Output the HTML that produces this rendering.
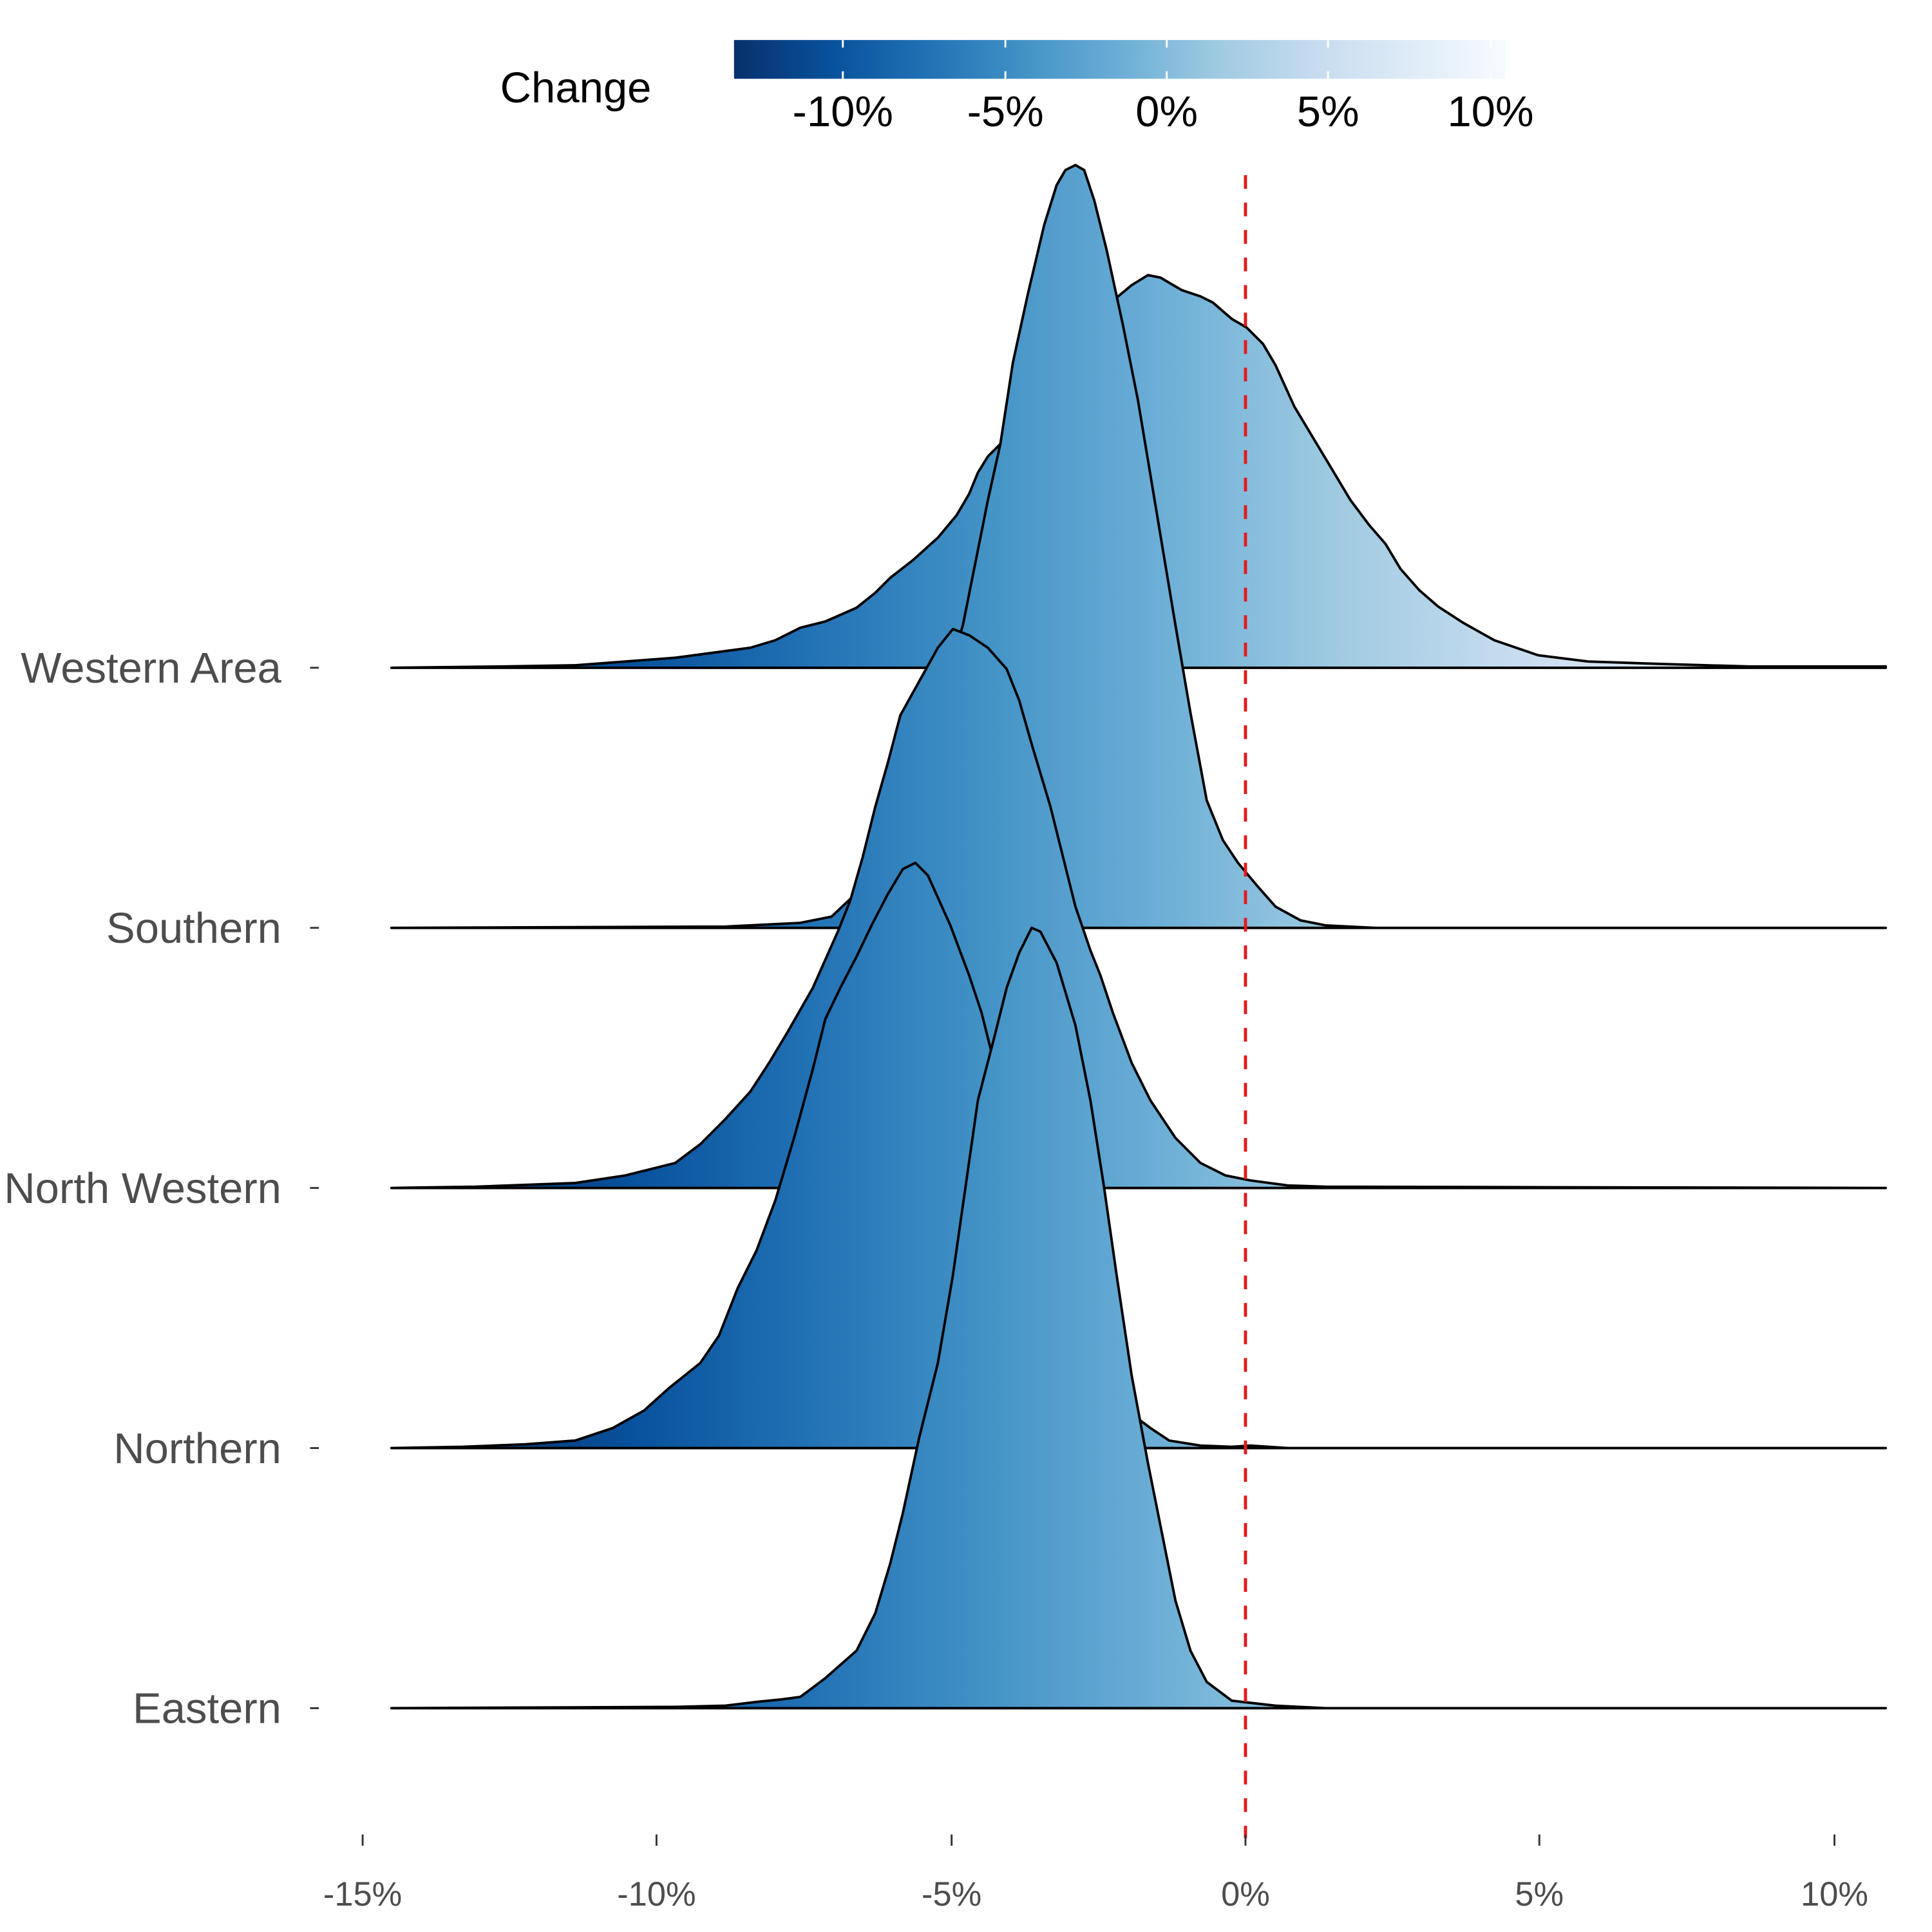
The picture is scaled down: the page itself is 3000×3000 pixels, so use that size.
<!DOCTYPE html>
<html><head><style>html,body{margin:0;padding:0;background:#fff}svg{display:block}</style></head>
<body>
<svg width="3000" height="3000" viewBox="0 0 1545 1545" xmlns="http://www.w3.org/2000/svg" font-family="Liberation Sans, Arial, sans-serif">
<defs>
<linearGradient id="g" gradientUnits="userSpaceOnUse" x1="365" y1="0" x2="1486" y2="0">
<stop offset="0" stop-color="#08306b"/><stop offset="0.125" stop-color="#08519c"/><stop offset="0.25" stop-color="#2171b5"/><stop offset="0.375" stop-color="#4292c6"/><stop offset="0.5" stop-color="#6baed6"/><stop offset="0.625" stop-color="#9ecae1"/><stop offset="0.75" stop-color="#c6dbef"/><stop offset="0.875" stop-color="#deebf7"/><stop offset="1" stop-color="#f7fbff"/>
</linearGradient>
<linearGradient id="cb" x1="0" y1="0" x2="1" y2="0">
<stop offset="0" stop-color="#08306b"/><stop offset="0.125" stop-color="#08519c"/><stop offset="0.25" stop-color="#2171b5"/><stop offset="0.375" stop-color="#4292c6"/><stop offset="0.5" stop-color="#6baed6"/><stop offset="0.625" stop-color="#9ecae1"/><stop offset="0.75" stop-color="#c6dbef"/><stop offset="0.875" stop-color="#deebf7"/><stop offset="1" stop-color="#f7fbff"/>
</linearGradient>
</defs>
<g fill="url(#g)" stroke="#000" stroke-width="2" stroke-linejoin="round">
<path d="M313,534 L400,533 460,532 500,529 540,526 570,522 600,518 620,512 640,502 660,497 685,486 700,474 712,462 730,448 750,430 765,412 775,395 782,378 790,365 800,355 830,300 860,265 893,238 905,228 918,220 928,222 945,232 960,237 970,242 985,255 997,262 1010,275 1020,292 1035,325 1050,350 1065,375 1080,400 1095,420 1108,435 1120,455 1135,472 1150,485 1170,498 1195,512 1230,524 1270,529 1330,531 1400,533 1508,533 L1508,534 Z"/>
<path d="M313,742 L580,741 640,738 665,733 700,700 740,600 770,500 790,400 800,355 810,290 822,235 835,180 845,148 852,136 860,132 867,136 875,160 885,200 898,260 910,320 920,380 930,440 940,500 952,570 965,640 978,672 990,690 1005,708 1020,725 1040,736 1060,740 1100,742 1508,742 Z"/>
<path d="M313,950 L380,949 460,946 500,940 540,930 560,915 580,895 600,873 615,850 630,825 650,790 670,745 680,720 690,685 700,645 710,610 720,572 735,545 750,518 762,503 775,508 790,518 805,535 815,560 825,595 840,645 850,685 860,725 872,760 880,780 890,810 905,850 920,880 940,910 960,930 980,940 1000,944 1030,948 1060,949 1508,950 Z"/>
<path d="M313,1158 L370,1157 420,1155 460,1152 490,1142 515,1128 535,1110 560,1090 575,1068 590,1030 605,1000 620,960 635,910 650,855 660,815 672,790 685,765 697,740 710,715 722,695 732,690 742,700 760,740 775,780 785,810 795,850 820,930 850,1020 880,1100 908,1133 920,1142 935,1152 960,1156 985,1157 1000,1156 1030,1158 1508,1158 Z"/>
<path d="M313,1366 L540,1365 580,1364 605,1361 625,1359 640,1357 660,1342 685,1320 700,1290 712,1250 722,1210 735,1150 750,1090 762,1020 772,950 782,880 795,830 805,790 815,762 825,742 832,745 845,770 860,820 872,880 883,950 893,1020 905,1100 918,1170 930,1230 940,1280 952,1320 965,1345 985,1360 1020,1364 1060,1366 1508,1366 Z"/>
</g>
<line x1="996" y1="140" x2="996" y2="1470" stroke="#e41a1c" stroke-width="2.5" stroke-dasharray="11,11"/>
<g stroke="#333" stroke-width="1.5">
<line x1="290" y1="1467" x2="290" y2="1476"/><line x1="525" y1="1467" x2="525" y2="1476"/><line x1="761" y1="1467" x2="761" y2="1476"/><line x1="996" y1="1467" x2="996" y2="1476"/><line x1="1231" y1="1467" x2="1231" y2="1476"/><line x1="1467" y1="1467" x2="1467" y2="1476"/>
<line x1="248" y1="534" x2="255" y2="534"/><line x1="248" y1="742" x2="255" y2="742"/><line x1="248" y1="950" x2="255" y2="950"/><line x1="248" y1="1158" x2="255" y2="1158"/><line x1="248" y1="1366" x2="255" y2="1366"/>
</g>
<g fill="#4d4d4d" font-size="27" text-anchor="middle">
<text x="290" y="1524">-15%</text><text x="525" y="1524">-10%</text><text x="761" y="1524">-5%</text><text x="996" y="1524">0%</text><text x="1231" y="1524">5%</text><text x="1467" y="1524">10%</text>
</g>
<g fill="#4d4d4d" font-size="34.5" text-anchor="end">
<text x="225" y="546">Western Area</text><text x="225" y="754">Southern</text><text x="225" y="962">North Western</text><text x="225" y="1170">Northern</text><text x="225" y="1378">Eastern</text>
</g>
<text x="400" y="82" font-size="34.5" fill="#000">Change</text>
<rect x="587" y="32" width="617" height="31" fill="url(#cb)"/>
<g stroke="#fff" stroke-width="1.5">
<line x1="674" y1="32" x2="674" y2="38"/><line x1="674" y1="57" x2="674" y2="63"/>
<line x1="804" y1="32" x2="804" y2="38"/><line x1="804" y1="57" x2="804" y2="63"/>
<line x1="933" y1="32" x2="933" y2="38"/><line x1="933" y1="57" x2="933" y2="63"/>
<line x1="1062" y1="32" x2="1062" y2="38"/><line x1="1062" y1="57" x2="1062" y2="63"/>
<line x1="1192" y1="32" x2="1192" y2="38"/><line x1="1192" y1="57" x2="1192" y2="63"/>
</g>
<g fill="#000" font-size="34.5" text-anchor="middle">
<text x="674" y="101">-10%</text><text x="804" y="101">-5%</text><text x="933" y="101">0%</text><text x="1062" y="101">5%</text><text x="1192" y="101">10%</text>
</g>
</svg>
</body></html>
